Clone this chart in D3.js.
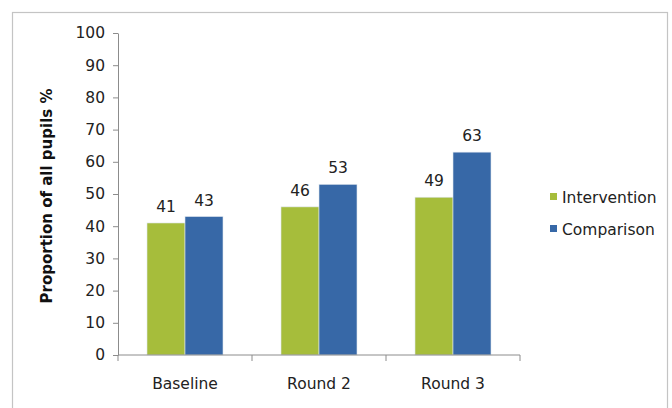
<!DOCTYPE html>
<html lang="en">
<head>
    <meta charset="UTF-8">
    <title>Proportion of all pupils</title>
    <script src="https://d3js.org/d3.v7.min.js"></script>
    <style>
        body { margin: 0; background: #fff; }
        svg { display: block; font-family: 'DejaVu Sans', sans-serif; }
    </style>
</head>
<body>
    <svg id="chart" width="672" height="408"></svg>
    <script>
        const categories = ["Baseline", "Round 2", "Round 3"];
        const seriesNames = ["Intervention", "Comparison"];
        const intervention = [41, 46, 49];
        const comparison = [43, 53, 63];
        const yTicks = [0, 10, 20, 30, 40, 50, 60, 70, 80, 90, 100];
        const colors = ["#a6bd3b", "#3768a7"];
        const fontSize = 15.5;

        const svg = d3.select("#chart");

        // outer frame
        svg.append("rect")
            .attr("x", 12.5).attr("y", 12.5)
            .attr("width", 655).attr("height", 420)
            .attr("fill", "none")
            .attr("stroke", "#c4c4c4")
            .attr("stroke-width", 1.2);

        const plotLeft = 118, plotRight = 520, plotTop = 33, plotBottom = 355;

        const x = d3.scaleBand().domain(categories).range([plotLeft, plotRight]);
        const x1 = d3.scaleBand().domain(seriesNames).range([29, x.bandwidth() - 29]);
        const y = d3.scaleLinear().domain([0, 100]).range([plotBottom, plotTop]);

        const data = categories.map((c, i) => ({ cat: c, values: [intervention[i], comparison[i]] }));

        const groups = svg.append("g").selectAll("g")
            .data(data).join("g")
            .attr("transform", d => `translate(${x(d.cat)},0)`);

        groups.selectAll("rect")
            .data(d => d.values.map((v, j) => ({ name: seriesNames[j], v, j })))
            .join("rect")
            .attr("x", d => x1(d.name))
            .attr("y", d => y(d.v))
            .attr("width", x1.bandwidth())
            .attr("height", d => y(0) - y(d.v))
            .attr("fill", d => colors[d.j])
            .attr("stroke", "#dfe6ee")
            .attr("stroke-width", 0.6);

        groups.selectAll("text")
            .data(d => d.values.map((v, j) => ({ name: seriesNames[j], v })))
            .join("text")
            .attr("x", d => x1(d.name) + x1.bandwidth() / 2)
            .attr("y", d => y(d.v) - 11)
            .attr("text-anchor", "middle")
            .attr("font-size", fontSize)
            .attr("fill", "#222")
            .text(d => d.v);

        // y axis
        const yAxis = svg.append("g")
            .attr("transform", `translate(${plotLeft},0)`)
            .call(d3.axisLeft(y).tickValues(yTicks).tickSize(5).tickPadding(8).tickSizeOuter(0));
        yAxis.select(".domain").attr("stroke", "#8c8c8c");
        yAxis.selectAll(".tick line").attr("stroke", "#8c8c8c");
        yAxis.selectAll(".tick text")
            .attr("font-size", fontSize).attr("fill", "#222")
            .attr("font-family", "'DejaVu Sans', sans-serif");

        // x axis with ticks at category boundaries
        const xAxis = svg.append("g").attr("transform", `translate(0,${plotBottom})`);
        xAxis.append("line")
            .attr("x1", plotLeft).attr("x2", plotRight)
            .attr("stroke", "#8c8c8c");
        const bounds = categories.map(c => x(c)).concat([plotRight]);
        xAxis.selectAll(".bt").data(bounds).join("line")
            .attr("class", "bt")
            .attr("x1", d => d).attr("x2", d => d)
            .attr("y1", 0).attr("y2", 6)
            .attr("stroke", "#8c8c8c");
        xAxis.selectAll(".cl").data(categories).join("text")
            .attr("class", "cl")
            .attr("x", d => x(d) + x.bandwidth() / 2)
            .attr("y", 34)
            .attr("text-anchor", "middle")
            .attr("font-size", fontSize)
            .attr("fill", "#222")
            .text(d => d);

        // y axis title
        svg.append("text")
            .attr("transform", `translate(52,196) rotate(-90)`)
            .attr("text-anchor", "middle")
            .attr("font-size", 15)
            .attr("font-weight", "bold")
            .attr("fill", "#111")
            .text("Proportion of all pupils %");

        // legend
        const legend = svg.append("g").attr("transform", "translate(550,197)");
        seriesNames.forEach((name, i) => {
            const row = legend.append("g").attr("transform", `translate(0,${i * 32})`);
            row.append("rect")
                .attr("x", 0).attr("y", -4)
                .attr("width", 7).attr("height", 7)
                .attr("fill", colors[i]);
            row.append("text")
                .attr("x", 12).attr("y", 5.5)
                .attr("font-size", fontSize)
                .attr("fill", "#222")
                .text(name);
        });
    </script>
</body>
</html>
